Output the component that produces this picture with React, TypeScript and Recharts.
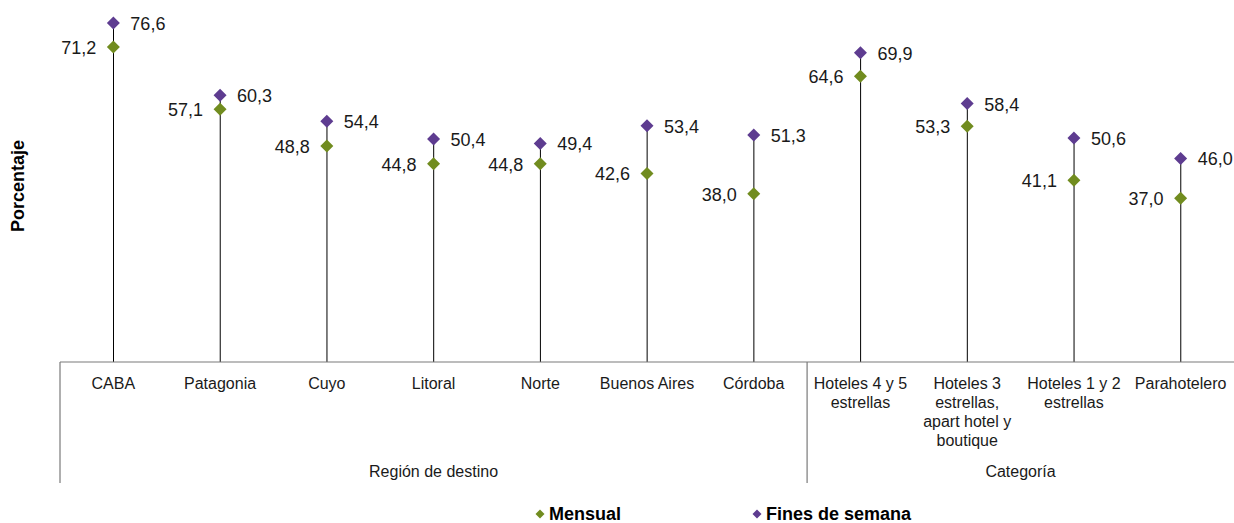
import React from 'react';
import { ComposedChart, Bar, Line, XAxis, YAxis, LabelList, Customized } from 'recharts';

const categories = [
  'CABA',
  'Patagonia',
  'Cuyo',
  'Litoral',
  'Norte',
  'Buenos Aires',
  'Córdoba',
  'Hoteles 4 y 5\nestrellas',
  'Hoteles 3\nestrellas,\napart hotel y\nboutique',
  'Hoteles 1 y 2\nestrellas',
  'Parahotelero',
];
const mensual = [71.2, 57.1, 48.8, 44.8, 44.8, 42.6, 38.0, 64.6, 53.3, 41.1, 37.0];
const finesDeSemana = [76.6, 60.3, 54.4, 50.4, 49.4, 53.4, 51.3, 69.9, 58.4, 50.6, 46.0];
const groups = [
  { name: 'Región de destino', count: 7 },
  { name: 'Categoría', count: 4 },
];

const data = categories.map((name, i) => ({ name, mensual: mensual[i], fines: finesDeSemana[i] }));

const WIDTH = 1234;
const HEIGHT = 523;
const LEFT = 60;
const PLOT_BOTTOM = 362;
const FONT = '"Liberation Sans", Arial, Helvetica, sans-serif';
const GREEN = '#718C1F';
const PURPLE = '#5E3C90';
const AXIS = '#7a7a7a';

const fmt = (v: number) => v.toFixed(1).replace('.', ',');

const diamond = (cx: number, cy: number, r: number, fill: string) => (
  <polygon points={`${cx},${cy - r} ${cx + r},${cy} ${cx},${cy + r} ${cx - r},${cy}`} fill={fill} />
);

const dotFor = (fill: string) => (props: any) => {
  const { cx, cy, index } = props;
  if (cx == null || cy == null) return <g key={index} />;
  return <g key={index}>{diamond(cx, cy, 6.5, fill)}</g>;
};

const leftLabel = (props: any) => {
  const { x, y, value } = props;
  return (
    <text x={x - 17} y={y + 1} textAnchor="end" dominantBaseline="central" fontSize={18} fill="#1a1a1a" fontFamily={FONT}>
      {fmt(value)}
    </text>
  );
};

const rightLabel = (props: any) => {
  const { x, y, value } = props;
  return (
    <text x={x + 17} y={y + 1} textAnchor="start" dominantBaseline="central" fontSize={18} fill="#1a1a1a" fontFamily={FONT}>
      {fmt(value)}
    </text>
  );
};

const CategoryTick = (props: any) => {
  const { x, payload } = props;
  const lines = String(payload.value).split('\n');
  return (
    <text textAnchor="middle" fontSize={16} fill="#1a1a1a" fontFamily={FONT}>
      {lines.map((l, i) => (
        <tspan key={i} x={x} y={PLOT_BOTTOM + 27 + i * 19}>
          {l}
        </tspan>
      ))}
    </text>
  );
};

const GroupAxis = () => {
  const band = (WIDTH - LEFT) / categories.length;
  let start = 0;
  const items: React.ReactNode[] = [];
  groups.forEach((g, gi) => {
    const x0 = LEFT + start * band;
    const x1 = LEFT + (start + g.count) * band;
    items.push(<line key={`sep${gi}`} x1={x0} x2={x0} y1={PLOT_BOTTOM} y2={483} stroke={AXIS} strokeWidth={1.2} />);
    items.push(
      <text key={`lab${gi}`} x={(x0 + x1) / 2} y={477} textAnchor="middle" fontSize={16} fill="#1a1a1a" fontFamily={FONT}>
        {g.name}
      </text>
    );
    start += g.count;
  });
  return (
    <g>
      {items}
      <text
        x={24}
        y={186}
        transform="rotate(-90 24 186)"
        textAnchor="middle"
        fontSize={18}
        fontWeight="bold"
        fill="#000"
        fontFamily={FONT}
      >
        Porcentaje
      </text>
    </g>
  );
};

const LegendItem = ({ color, label }: { color: string; label: string }) => (
  <span style={{ display: 'inline-flex', alignItems: 'center' }}>
    <svg width={12} height={12} style={{ marginRight: 3 }}>
      {diamond(6, 6, 4.5, color)}
    </svg>
    <span>{label}</span>
  </span>
);

export default function App() {
  return (
    <div style={{ position: 'relative', width: WIDTH, height: HEIGHT, background: '#fff', fontFamily: FONT }}>
      <style>{'body{margin:0}'}</style>
      <ComposedChart width={WIDTH} height={HEIGHT} data={data} margin={{ top: 8, right: 0, left: 0, bottom: 121 }}>
        <YAxis domain={[0, 80]} width={LEFT} tick={false} axisLine={false} tickLine={false} />
        <XAxis
          dataKey="name"
          height={40}
          interval={0}
          tickLine={false}
          axisLine={{ stroke: AXIS, strokeWidth: 1.2 }}
          tick={<CategoryTick />}
        />
        <Bar dataKey="fines" barSize={1} fill="#000" isAnimationActive={false} />
        <Line
          dataKey="mensual"
          stroke="none"
          dot={dotFor(GREEN)}
          activeDot={false}
          isAnimationActive={false}
        >
          <LabelList dataKey="mensual" content={leftLabel} />
        </Line>
        <Line
          dataKey="fines"
          stroke="none"
          dot={dotFor(PURPLE)}
          activeDot={false}
          isAnimationActive={false}
        >
          <LabelList dataKey="fines" content={rightLabel} />
        </Line>
        <Customized component={<GroupAxis />} />
      </ComposedChart>
      <div
        style={{
          position: 'absolute',
          top: 503,
          left: 534,
          fontSize: 18,
          fontWeight: 'bold',
          color: '#000',
          display: 'flex',
          lineHeight: '22px',
        }}
      >
        <LegendItem color={GREEN} label="Mensual" />
        <span style={{ width: 130 }} />
        <LegendItem color={PURPLE} label="Fines de semana" />
      </div>
    </div>
  );
}
